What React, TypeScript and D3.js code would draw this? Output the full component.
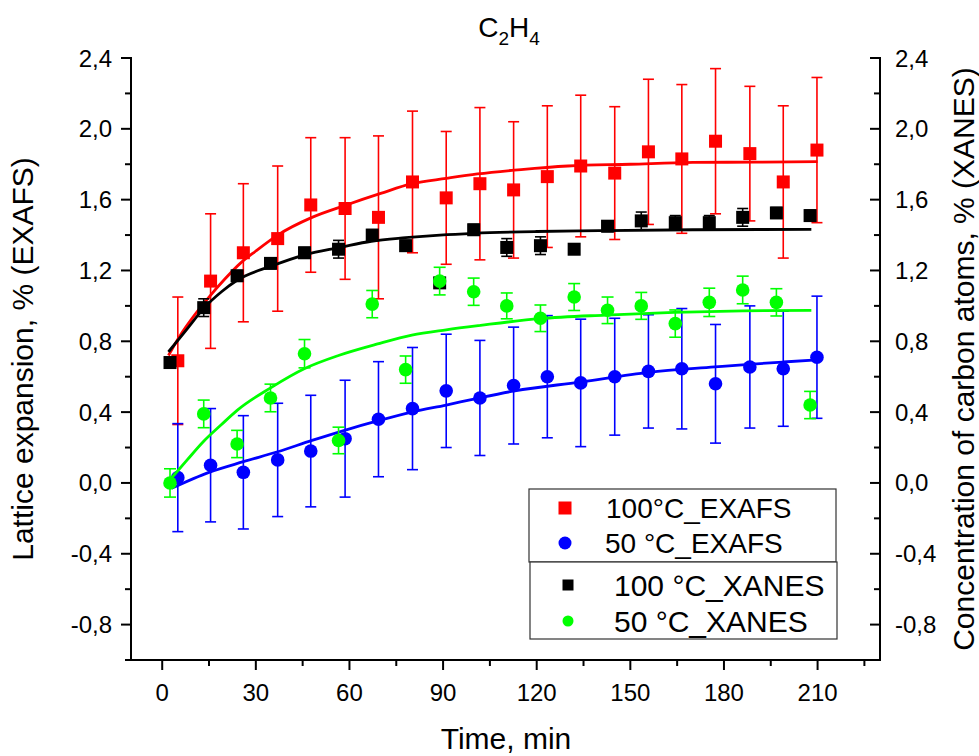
import React from "react";
import * as d3 from "d3";

// ---- data ----
const timeExafs = [5, 15.5, 26, 37, 47.6, 58.6, 69.3, 80.2, 91, 101.8, 112.6, 123.4, 134.1, 145, 155.8, 166.5, 177.3, 188.3, 199, 209.8];
const timeXanes = [2.5, 13.3, 24, 34.7, 45.6, 56.5, 67.3, 78, 88.9, 99.8, 110.4, 121.2, 132, 142.7, 153.5, 164.4, 175.3, 186, 196.8, 207.6];

const red100Exafs = [0.69, 1.14, 1.30, 1.38, 1.57, 1.55, 1.50, 1.70, 1.61, 1.69, 1.655, 1.73, 1.79, 1.75, 1.87, 1.83, 1.93, 1.86, 1.70, 1.88];
const red100ExafsErr = [0.36, 0.38, 0.39, 0.41, 0.38, 0.40, 0.46, 0.40, 0.375, 0.43, 0.385, 0.40, 0.40, 0.375, 0.41, 0.42, 0.41, 0.38, 0.43, 0.41];

const blue50Exafs = [0.03, 0.10, 0.06, 0.13, 0.18, 0.25, 0.36, 0.42, 0.52, 0.48, 0.55, 0.60, 0.565, 0.60, 0.63, 0.645, 0.56, 0.655, 0.645, 0.71];
const blue50ExafsErr = [0.305, 0.32, 0.32, 0.32, 0.315, 0.33, 0.325, 0.345, 0.32, 0.325, 0.33, 0.345, 0.36, 0.33, 0.32, 0.34, 0.335, 0.345, 0.325, 0.345];

const black100Xanes = [0.68, 0.99, 1.17, 1.24, 1.30, 1.32, 1.40, 1.34, 1.13, 1.43, 1.33, 1.34, 1.32, 1.45, 1.48, 1.47, 1.47, 1.50, 1.525, 1.51];
const black100XanesErr = [0.03, 0.05, 0.03, 0.03, 0.03, 0.05, 0.03, 0.03, 0.03, 0.03, 0.05, 0.05, 0.02, 0.03, 0.05, 0.04, 0.04, 0.05, 0.03, 0.03];

const green50Xanes = [0.0, 0.39, 0.22, 0.48, 0.73, 0.24, 1.01, 0.64, 1.14, 1.08, 1.0, 0.93, 1.05, 0.975, 1.0, 0.9, 1.02, 1.09, 1.02, 0.44];
const green50XanesErr = [0.08, 0.078, 0.077, 0.078, 0.08, 0.075, 0.077, 0.077, 0.078, 0.077, 0.073, 0.075, 0.076, 0.075, 0.076, 0.077, 0.08, 0.078, 0.077, 0.077];

// fitted curves
const redFitT = [2, 6, 10, 15, 20, 25, 30, 37, 48, 59, 70, 80, 91, 101, 115, 130, 150, 170, 190, 210];
const redFitV = [0.72, 0.84, 0.94, 1.05, 1.15, 1.24, 1.31, 1.40, 1.50, 1.57, 1.635, 1.69, 1.72, 1.745, 1.77, 1.79, 1.80, 1.81, 1.812, 1.815];

const blackFitT = [2, 8, 13.5, 19, 24, 35, 46, 57, 67, 78, 89, 100, 120, 140, 170, 208];
const blackFitV = [0.74, 0.87, 0.99, 1.08, 1.145, 1.225, 1.29, 1.33, 1.365, 1.385, 1.40, 1.41, 1.42, 1.425, 1.43, 1.432];

const greenFitT = [2.6, 8, 13, 19, 24, 35, 45.5, 56.5, 69, 80, 91, 102, 121, 142, 164, 186, 208];
const greenFitV = [0.02, 0.13, 0.23, 0.33, 0.41, 0.54, 0.645, 0.72, 0.785, 0.835, 0.865, 0.89, 0.928, 0.948, 0.963, 0.972, 0.975];

const blueFitT = [3, 15, 26, 37, 48, 59, 69, 80, 91, 101, 113, 134, 156, 177, 188, 199, 210];
const blueFitV = [-0.03, 0.06, 0.12, 0.176, 0.24, 0.30, 0.35, 0.40, 0.44, 0.478, 0.52, 0.57, 0.625, 0.655, 0.67, 0.683, 0.695];

const xTicks = [0, 30, 60, 90, 120, 150, 180, 210];
const xMinorTicks = [15, 45, 75, 105, 135, 165, 195, 225];
const yTicks = [-0.8, -0.4, 0.0, 0.4, 0.8, 1.2, 1.6, 2.0, 2.4];
const yMinorTicks = [-1.0, -0.6, -0.2, 0.2, 0.6, 1.0, 1.4, 1.8, 2.2];

const legendLabels = ["100°C_EXAFS", "50 °C_EXAFS", "100 °C_XANES", "50 °C_XANES"];

const RED = "#ff0000";
const BLUE = "#0000ff";
const BLACK = "#000000";
const GREEN = "#00ff00";
const FONT = "Arial, 'Liberation Sans', sans-serif";

const fmt = (v: number) => v.toFixed(1).replace(".", ",");

export default function App() {
  const x = d3.scaleLinear().domain([-10, 230]).range([131, 880]);
  const y = d3.scaleLinear().domain([-1.0, 2.4]).range([660, 58]);

  const line = d3
    .line<[number, number]>()
    .x((d) => x(d[0]))
    .y((d) => y(d[1]))
    .curve(d3.curveMonotoneX);

  const fitPath = (ts: number[], vs: number[]) =>
    line(ts.map((t, i) => [t, vs[i]] as [number, number])) || "";

  const errorBars = (ts: number[], vs: number[], es: number[], color: string, key: string, cap = 11) =>
    ts.map((t, i) => {
      const cx = x(t);
      const y1 = y(vs[i] + es[i]);
      const y2 = y(vs[i] - es[i]);
      return (
        <g key={key + i} stroke={color} strokeWidth={1.6}>
          <line x1={cx} x2={cx} y1={y1} y2={y2} />
          <line x1={cx - cap / 2} x2={cx + cap / 2} y1={y1} y2={y1} />
          <line x1={cx - cap / 2} x2={cx + cap / 2} y1={y2} y2={y2} />
        </g>
      );
    });

  const squares = (ts: number[], vs: number[], color: string, key: string, s = 13) =>
    ts.map((t, i) => (
      <rect key={key + i} x={x(t) - s / 2} y={y(vs[i]) - s / 2} width={s} height={s} fill={color} />
    ));

  const circles = (ts: number[], vs: number[], color: string, key: string, r = 6.8) =>
    ts.map((t, i) => <circle key={key + i} cx={x(t)} cy={y(vs[i])} r={r} fill={color} />);

  const axisY = 660;
  const leftX = 131;
  const rightX = 880;

  return (
    <svg
      width={979}
      height={756}
      style={{ position: "absolute", left: 0, top: 0, background: "#fff" }}
      fontFamily={FONT}
    >
      <rect x={0} y={0} width={979} height={756} fill="#fff" />

      {/* Title */}
      <text x={509} y={37} textAnchor="middle" fontSize={28} fill="#000">
        C<tspan fontSize={19} dy={8}>2</tspan>
        <tspan dy={-8}>H</tspan>
        <tspan fontSize={19} dy={8}>4</tspan>
      </text>

      {/* Red: 100°C EXAFS */}
      {errorBars(timeExafs, red100Exafs, red100ExafsErr, RED, "re")}
      <path d={fitPath(redFitT, redFitV)} fill="none" stroke={RED} strokeWidth={2.8} />
      {squares(timeExafs, red100Exafs, RED, "rs")}

      {/* Blue: 50°C EXAFS */}
      {errorBars(timeExafs, blue50Exafs, blue50ExafsErr, BLUE, "be")}
      <path d={fitPath(blueFitT, blueFitV)} fill="none" stroke={BLUE} strokeWidth={2.8} />
      {circles(timeExafs, blue50Exafs, BLUE, "bc")}

      {/* Black: 100°C XANES */}
      {errorBars(timeXanes, black100Xanes, black100XanesErr, BLACK, "ke")}
      <path d={fitPath(blackFitT, blackFitV)} fill="none" stroke={BLACK} strokeWidth={2.8} />
      {squares(timeXanes, black100Xanes, BLACK, "ks")}

      {/* Green: 50°C XANES */}
      {errorBars(timeXanes, green50Xanes, green50XanesErr, GREEN, "ge", 12)}
      <path d={fitPath(greenFitT, greenFitV)} fill="none" stroke={GREEN} strokeWidth={2.8} />
      {circles(timeXanes, green50Xanes, GREEN, "gc")}

      {/* Axes */}
      <g stroke="#000" strokeWidth={2}>
        <line x1={leftX} x2={leftX} y1={y(2.4) - 1} y2={axisY + 1} />
        <line x1={rightX} x2={rightX} y1={y(2.4) - 1} y2={axisY + 1} />
        <line x1={leftX - 1} x2={rightX + 1} y1={axisY} y2={axisY} />
        {xTicks.map((t) => (
          <line key={"xt" + t} x1={x(t)} x2={x(t)} y1={axisY} y2={axisY + 10} />
        ))}
        {xMinorTicks.map((t) => (
          <line key={"xm" + t} x1={x(t)} x2={x(t)} y1={axisY} y2={axisY + 6} />
        ))}
        {yTicks.map((v) => (
          <g key={"yt" + v}>
            <line x1={leftX - 10} x2={leftX} y1={y(v)} y2={y(v)} />
            <line x1={rightX - 10} x2={rightX} y1={y(v)} y2={y(v)} />
          </g>
        ))}
        {yMinorTicks.map((v) => (
          <g key={"ym" + v}>
            <line x1={leftX - 6} x2={leftX} y1={y(v)} y2={y(v)} />
            <line x1={rightX - 6} x2={rightX} y1={y(v)} y2={y(v)} />
          </g>
        ))}
      </g>

      {/* Tick labels */}
      <g fontSize={24} fill="#000">
        {xTicks.map((t) => (
          <text key={"xl" + t} x={x(t)} y={701} textAnchor="middle">
            {t}
          </text>
        ))}
        {yTicks.map((v) => (
          <text key={"yl" + v} x={112} y={y(v) + 8.5} textAnchor="end">
            {fmt(v)}
          </text>
        ))}
        {yTicks.map((v) => (
          <text key={"yr" + v} x={895} y={y(v) + 8.5} textAnchor="start">
            {fmt(v)}
          </text>
        ))}
      </g>

      {/* Axis titles */}
      <text x={506} y={749} textAnchor="middle" fontSize={30} fill="#000">
        Time, min
      </text>
      <text
        transform={`translate(33,${(58 + 660) / 2}) rotate(-90)`}
        textAnchor="middle"
        fontSize={30}
        fill="#000"
      >
        Lattice expansion, % (EXAFS)
      </text>
      <text
        transform={`translate(974,${(58 + 660) / 2}) rotate(-90)`}
        textAnchor="middle"
        fontSize={30}
        fill="#000"
      >
        Concentration of carbon atoms, % (XANES)
      </text>

      {/* Legend */}
      <rect x={529} y={489} width={307} height={73} fill="#fff" stroke="#333" strokeWidth={1.2} />
      <rect x={530} y={562} width={307} height={77} fill="#fff" stroke="#333" strokeWidth={1.2} />
      <rect x={565 - 6.5} y={508 - 6.5} width={13} height={13} fill={RED} />
      <circle cx={565} cy={543} r={6.5} fill={BLUE} />
      <rect x={568 - 5.5} y={585 - 5.5} width={11} height={11} fill={BLACK} />
      <circle cx={568} cy={621} r={5.5} fill={GREEN} />
      <g fill="#000">
        <text x={606} y={508 + 10} fontSize={28}>{legendLabels[0]}</text>
        <text x={605} y={543 + 10} fontSize={28}>{legendLabels[1]}</text>
        <text x={614} y={585 + 11} fontSize={30}>{legendLabels[2]}</text>
        <text x={614} y={621 + 11} fontSize={30}>{legendLabels[3]}</text>
      </g>
    </svg>
  );
}
